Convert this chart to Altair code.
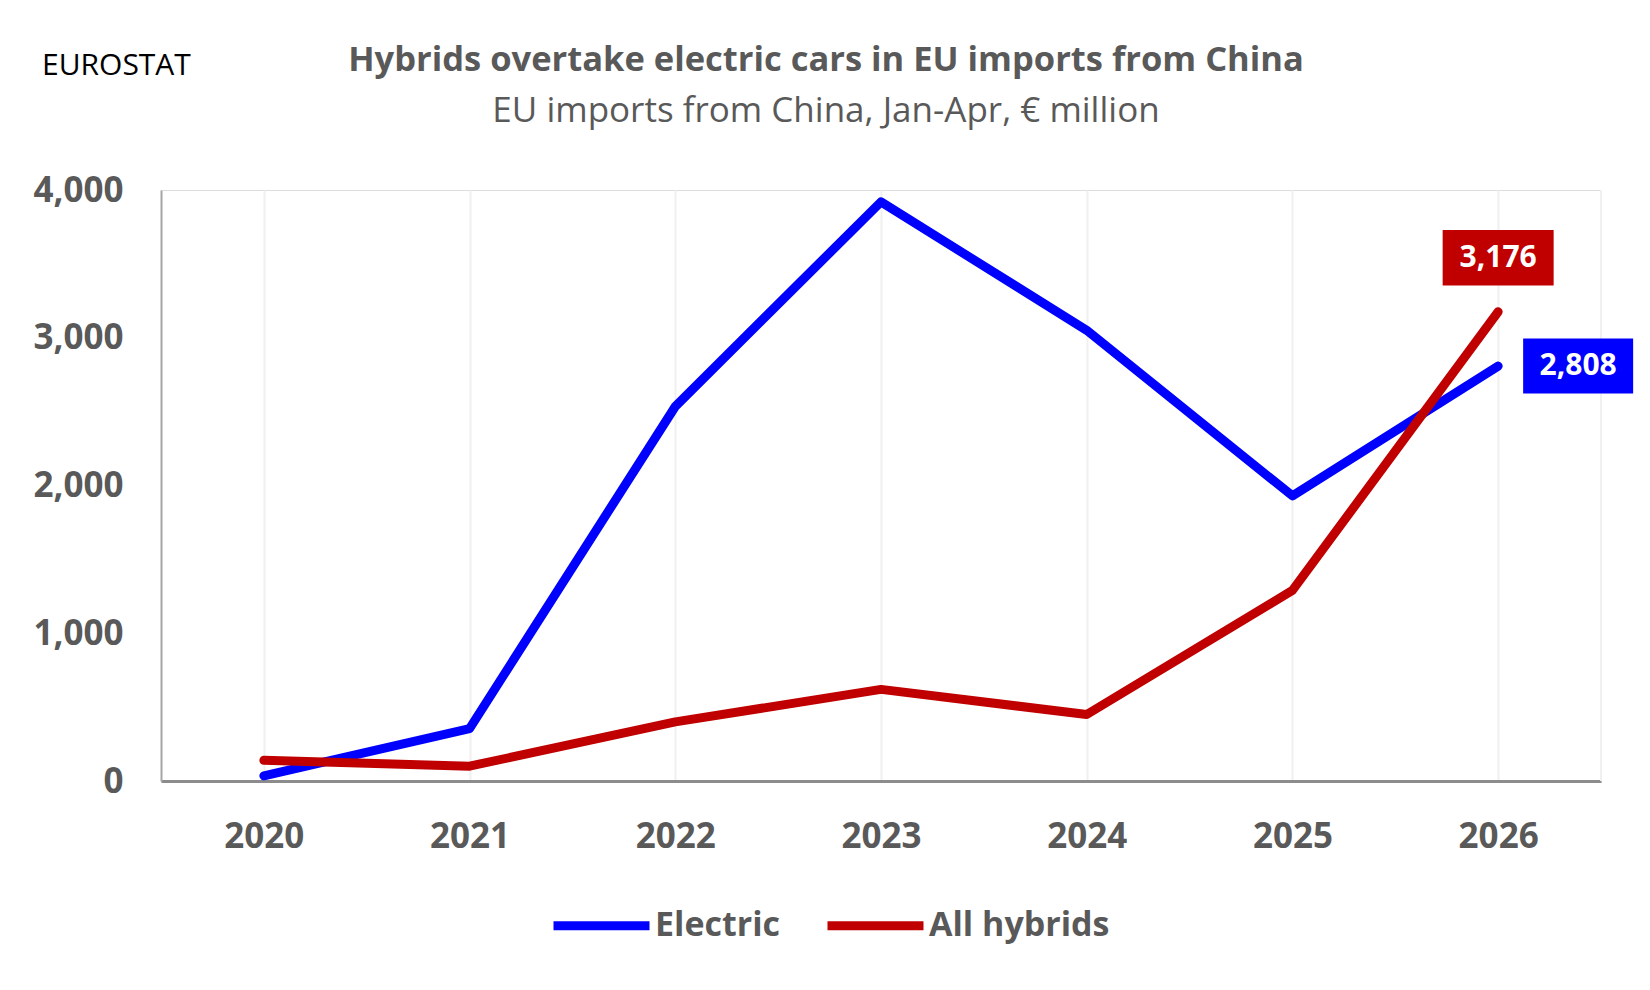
import altair as alt
import pandas as pd

years = ["2020", "2021", "2022", "2023", "2024", "2025", "2026"]
electric = [35, 355, 2535, 3920, 3050, 1930, 2808]
hybrids = [140, 100, 400, 620, 450, 1290, 3176]
series_names = ["Electric", "All hybrids"]
series_colors = ["#0000FF", "#C00000"]

title_text = "Hybrids overtake electric cars in EU imports from China"
subtitle_text = "EU imports from China, Jan-Apr, € million"
source_text = "EUROSTAT"

rows = []
for y, e, h in zip(years, electric, hybrids):
    rows.append({"year": y, "series": "Electric", "value": e})
    rows.append({"year": y, "series": "All hybrids", "value": h})
df = pd.DataFrame(rows)

FONT = "Open Sans"
GREY = "#595959"
W, H = 1440, 591

x_enc = alt.X("year:O", sort=years,
              scale=alt.Scale(paddingInner=0, paddingOuter=0),
              axis=alt.Axis(title=None, labelAngle=0, labelFont=FONT, labelFontSize=35,
                            labelFontWeight="bold", labelColor=GREY, labelPadding=38,
                            ticks=False, domainColor="#8C8C8C", domainWidth=3,
                            grid=True, gridColor="#F0F0F0", gridWidth=2, bandPosition=0))
y_enc = alt.Y("value:Q", scale=alt.Scale(domain=[0, 4000]),
              axis=alt.Axis(title=None, values=[0, 1000, 2000, 3000, 4000], format=",.0f",
                            labelFont=FONT, labelFontSize=35, labelFontWeight="bold",
                            labelColor=GREY, labelPadding=38, ticks=False, grid=False,
                            domainColor="#A6A6A6", domainWidth=2))
color_enc = alt.Color("series:N",
                      scale=alt.Scale(domain=series_names, range=series_colors),
                      legend=alt.Legend(title=None, orient="none", direction="horizontal",
                                        legendX=388, legendY=683, symbolType="stroke",
                                        symbolSize=9216, symbolStrokeWidth=9,
                                        labelFont=FONT, labelFontSize=34, labelFontWeight="bold",
                                        labelColor=GREY, labelOffset=1, columnPadding=28,
                                        padding=0, labelLimit=400))

base = alt.Chart(df)

lines = base.mark_line(strokeWidth=9, strokeCap="round", strokeJoin="round").encode(
    x=x_enc, y=y_enc, color=color_enc, order=alt.Order("year:O"))

right_grid = alt.Chart(pd.DataFrame({"k": [0]})).mark_rule(color="#F0F0F0", strokeWidth=2).encode(
    x=alt.value(W), y=alt.value(0), y2=alt.value(H))

box_path = "M-1,-0.5L1,-0.5L1,0.5L-1,0.5Z"

last = base.transform_filter(alt.datum.year == "2026")

red_box = last.transform_filter(alt.datum.series == "All hybrids").mark_point(
    shape=box_path, size=111 * 111, filled=True, opacity=1, color="#C00000", yOffset=-54).encode(
    x=alt.X("year:O", sort=years), y="value:Q")
red_txt = last.transform_filter(alt.datum.series == "All hybrids").mark_text(
    font=FONT, fontSize=30, fontWeight="bold", color="white", yOffset=-54, baseline="middle").encode(
    x=alt.X("year:O", sort=years), y="value:Q", text=alt.Text("value:Q", format=","))

blue_box = last.transform_filter(alt.datum.series == "Electric").mark_point(
    shape=box_path, size=110 * 110, filled=True, opacity=1, color="#0000FF", xOffset=80).encode(
    x=alt.X("year:O", sort=years), y="value:Q")
blue_txt = last.transform_filter(alt.datum.series == "Electric").mark_text(
    font=FONT, fontSize=30, fontWeight="bold", color="white", xOffset=80, baseline="middle").encode(
    x=alt.X("year:O", sort=years), y="value:Q", text=alt.Text("value:Q", format=","))

texts = pd.DataFrame({"t": [source_text, title_text, subtitle_text]})

source = alt.Chart(texts).transform_filter(alt.datum.t == source_text).mark_text(
    font=FONT, fontSize=30, color="#000000", align="left", baseline="middle").encode(
    x=alt.value(-119), y=alt.value(-124), text="t:N")
title = alt.Chart(texts).transform_filter(alt.datum.t == title_text).mark_text(
    font=FONT, fontSize=34.5, fontWeight="bold", color=GREY, align="center",
    baseline="alphabetic").encode(x=alt.value(665), y=alt.value(-119), text="t:N")
subtitle = alt.Chart(texts).transform_filter(alt.datum.t == subtitle_text).mark_text(
    font=FONT, fontSize=35, color=GREY, align="center",
    baseline="alphabetic").encode(x=alt.value(665), y=alt.value(-68), text="t:N")

chart = alt.layer(right_grid, lines, red_box, red_txt, blue_box, blue_txt,
                  source, title, subtitle).properties(
    width=W, height=H,
    autosize=alt.AutoSizeParams(type="none"),
    padding={"left": 153, "top": 182, "right": 41, "bottom": 190},
).configure_view(stroke=None).configure(background="white")

chart.save("out.html", embed_options={"renderer": "svg", "actions": False})
